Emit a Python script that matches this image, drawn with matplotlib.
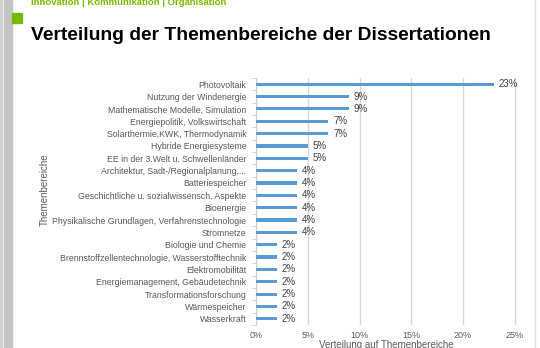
import matplotlib.pyplot as plt
import numpy as np

plt.rcParams['font.family'] = ['Liberation Sans', 'DejaVu Sans']

themen = [
    "Photovoltaik",
    "Nutzung der Windenergie",
    "Mathematische Modelle, Simulation",
    "Energiepolitik, Volkswirtschaft",
    "Solarthermie,KWK, Thermodynamik",
    "Hybride Energiesysteme",
    "EE in der 3.Welt u. Schwellenländer",
    "Architektur, Sadt-/Regionalplanung,...",
    "Batteriespeicher",
    "Geschichtliche u. sozialwissensch. Aspekte",
    "Bioenergie",
    "Physikalische Grundlagen, Verfahrenstechnologie",
    "Stromnetze",
    "Biologie und Chemie",
    "Brennstoffzellentechnologie, Wasserstofftechnik",
    "Elektromobilität",
    "Energiemanagement, Gebäudetechnik",
    "Transformationsforschung",
    "Wärmespeicher",
    "Wasserkraft",
]
anteil = [23, 9, 9, 7, 7, 5, 5, 4, 4, 4, 4, 4, 4, 2, 2, 2, 2, 2, 2, 2]
x_ticks = [0, 5, 10, 15, 20, 25]

W, H = 540, 348
fig = plt.figure(figsize=(W / 100, H / 100), dpi=100)

# page decoration: grey side strips, green square, right border line
fig.patches.append(plt.Rectangle((0 / W, 0), 2 / W, 1, transform=fig.transFigure,
                                 color="#d0d0d0", zorder=0))
fig.patches.append(plt.Rectangle((4 / W, 0), 8 / W, 1, transform=fig.transFigure,
                                 color="#c4c4c4", zorder=0))
fig.patches.append(plt.Rectangle((12 / W, 1 - 23 / H), 10 / W, 10 / H,
                                 transform=fig.transFigure, color="#7ab800", zorder=0))
fig.lines.append(plt.Line2D([535 / W, 535 / W], [0, 1], transform=fig.transFigure,
                            color="#e0e0e0", lw=1))

fig.text(31 / W, 1 - 5 / H, "Innovation | Kommunikation | Organisation",
         color="#7ab800", fontsize=6.8, fontweight="bold", va="baseline")
fig.text(31 / W, 1 - 35 / H, "Verteilung der Themenbereiche der Dissertationen",
         color="black", fontsize=13.9, fontweight="bold", va="center")

ax = fig.add_axes([256 / W, 1 - 325 / H, 262 / W, 247 / H])
y = np.arange(len(themen))
ax.barh(y, anteil, height=0.26, color="#5b9bd5", zorder=3)
for yi, v in zip(y, anteil):
    ax.text(v + 0.45, yi, f"{v}%", va="center", ha="left",
            fontsize=7, color="#404040")

ax.set_ylim(len(themen) - 0.5, -0.5)
ax.set_xlim(0, 25.3)
ax.set_xticks(x_ticks)
ax.set_xticklabels([f"{t}%" for t in x_ticks], fontsize=6.5, color="#595959")
ax.set_yticks(y)
ax.set_yticklabels(themen, fontsize=6.3, color="#595959")
ax.set_yticks(np.arange(len(themen) + 1) - 0.5, minor=True)
ax.tick_params(axis="y", which="major", length=0, pad=7)
ax.tick_params(axis="y", which="minor", length=3, color="#d0d0d0")
ax.tick_params(axis="x", length=0, pad=4)
ax.grid(axis="x", color="#d9d9d9", lw=1, zorder=0)
for s in ["top", "right", "bottom"]:
    ax.spines[s].set_visible(False)
ax.spines["left"].set_color("#d0d0d0")

fig.text(386 / W, 1 - 345 / H, "Verteilung auf Themenbereiche", fontsize=7,
         color="#595959", ha="center", va="center")
fig.text(45 / W, 1 - 190 / H, "Themenbereiche", rotation=90, fontsize=7,
         color="#595959", ha="center", va="center")

fig.savefig("out.png", dpi=100)
